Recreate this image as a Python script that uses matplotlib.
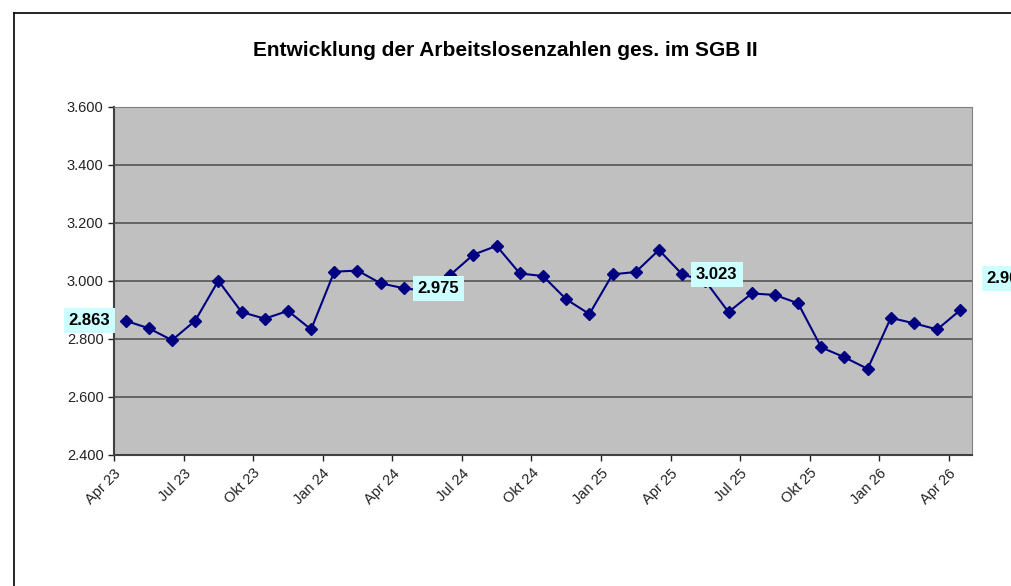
import matplotlib
matplotlib.use("Agg")
import matplotlib.pyplot as plt
from matplotlib.lines import Line2D
from matplotlib.ticker import FuncFormatter

plt.rcParams["font.family"] = ["Liberation Sans", "DejaVu Sans"]

# Monate Apr 23 .. Apr 26
monate = ["Apr 23", "Mai 23", "Jun 23", "Jul 23", "Aug 23", "Sep 23", "Okt 23", "Nov 23", "Dez 23",
          "Jan 24", "Feb 24", "Mrz 24", "Apr 24", "Mai 24", "Jun 24", "Jul 24", "Aug 24", "Sep 24",
          "Okt 24", "Nov 24", "Dez 24", "Jan 25", "Feb 25", "Mrz 25", "Apr 25", "Mai 25", "Jun 25",
          "Jul 25", "Aug 25", "Sep 25", "Okt 25", "Nov 25", "Dez 25", "Jan 26", "Feb 26", "Mrz 26",
          "Apr 26"]
werte = [2863, 2837, 2796, 2863, 3001, 2893, 2870, 2897, 2833,
         3032, 3036, 2992, 2975, 2965, 3021, 3091, 3121, 3026,
         3017, 2937, 2886, 3023, 3031, 3107, 3023, 3000, 2893,
         2957, 2952, 2923, 2771, 2737, 2697, 2873, 2854, 2833,
         2900]
beschriftet = ["Apr 23", "Apr 24", "Apr 25", "Apr 26"]

def fmt(v, pos=None):
    return f"{v:,.0f}".replace(",", ".")

fig = plt.figure(figsize=(10.11, 5.86), dpi=100)
ax = fig.add_axes([114 / 1011, 1 - 455 / 586, 858 / 1011, 348 / 586])
ax.set_facecolor("#C0C0C0")

x = list(range(len(monate)))
ax.plot(x, werte, color="#000080", lw=1.5, marker="D", ms=6, zorder=3)

ax.set_xlim(-0.5, len(monate) - 0.5)
ax.set_ylim(2400, 3600)
ax.set_yticks(range(2400, 3601, 200))
ax.yaxis.set_major_formatter(FuncFormatter(fmt))
ax.grid(axis="y", color="#555555", lw=1.2)
ax.set_axisbelow(True)

ticks = list(range(0, len(monate), 3))
ax.set_xticks([t - 0.5 for t in ticks])
ax.set_xticklabels([monate[t] for t in ticks], rotation=45, ha="right", rotation_mode="anchor")
ax.tick_params(axis="both", labelsize=10.5, colors="#222222", length=4, width=1)
ax.tick_params(axis="x", pad=4)

for s in ["top", "right"]:
    ax.spines[s].set_color("#808080")
for s in ["left", "bottom"]:
    ax.spines[s].set_color("#404040")
    ax.spines[s].set_linewidth(1.5)

box = dict(boxstyle="square,pad=0.3", fc="#CCFFFF", ec="none")
for m in beschriftet:
    i = monate.index(m)
    if i == 0:
        off, ha = (-11, 0), "right"
    elif i == len(monate) - 1:
        off, ha = (19, 23), "left"
    else:
        off, ha = (10, 0), "left"
    ax.annotate(fmt(werte[i]), (i, werte[i]), xytext=off, textcoords="offset points",
                ha=ha, va="center", fontsize=12, fontweight="bold", bbox=box,
                zorder=5, annotation_clip=False)

fig.suptitle("Entwicklung der Arbeitslosenzahlen ges. im SGB II", x=0.5, y=1 - 50 / 586,
             va="center", fontsize=15, fontweight="bold")

# Rahmen des Diagrammbereichs
fig.add_artist(Line2D([14 / 1011, 1], [1 - 13 / 586] * 2, color="black", lw=1.2))
fig.add_artist(Line2D([14 / 1011] * 2, [0, 1 - 13 / 586], color="black", lw=1.2))

fig.savefig("out.png", dpi=100)
